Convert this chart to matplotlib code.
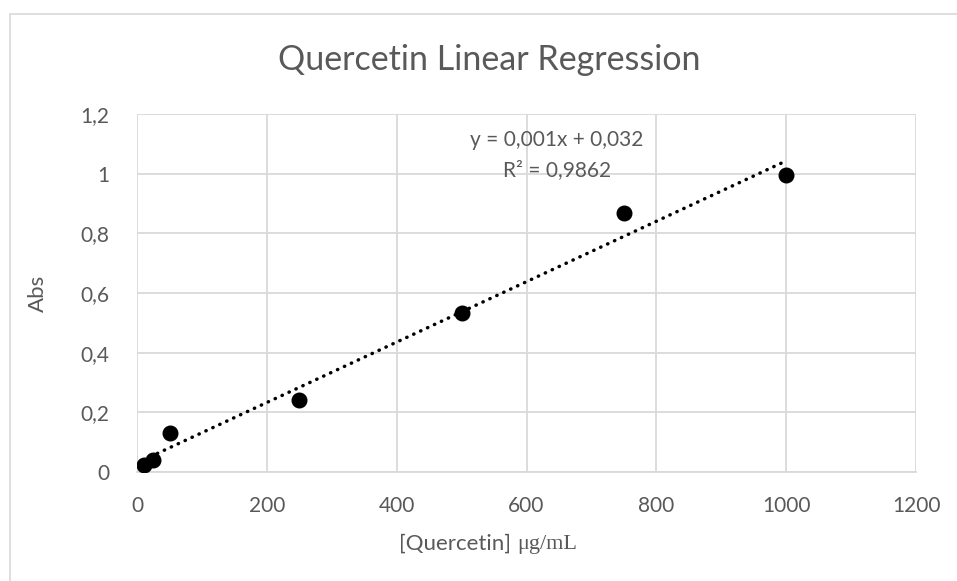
import matplotlib.pyplot as plt
import numpy as np
from matplotlib.offsetbox import TextArea, HPacker, AnchoredOffsetbox
from matplotlib.patches import Rectangle

# Datos
conc = [10, 25, 50, 250, 500, 750, 1000]
absorb = [0.023, 0.040, 0.131, 0.241, 0.533, 0.868, 0.995]
x_ticks = [0, 200, 400, 600, 800, 1000, 1200]
y_ticks = [0, 0.2, 0.4, 0.6, 0.8, 1.0, 1.2]
y_labels = ['0', '0,2', '0,4', '0,6', '0,8', '1', '1,2']

plt.rcParams['font.family'] = ['Lato', 'DejaVu Sans']
gris = '#595959'

fig = plt.figure(figsize=(9.57, 5.81), dpi=100)
ax = fig.add_axes([0.1432, 0.1876, 0.814, 0.6162])

# borde del grafico
fig.patches.append(Rectangle((0.0105, -0.05), 1.05, 1.026, transform=fig.transFigure,
                             fill=False, edgecolor='#d9d9d9', lw=1.2))

# linea de tendencia
m, b = np.polyfit(conc, absorb, 1)
xs = np.array([min(conc), max(conc)])
ax.plot(xs, m * xs + b, color='black', lw=2.5, linestyle=(0, (0.1, 2.1)),
        dash_capstyle='round', zorder=2)
ax.plot(conc, absorb, 'o', color='black', markersize=10.5, zorder=3)

ax.set_xlim(0, 1200)
ax.set_ylim(0, 1.2)
ax.set_xticks(x_ticks)
ax.set_yticks(y_ticks)
ax.set_yticklabels(y_labels)
ax.grid(True, color='#d9d9d9', lw=1.3)
ax.set_axisbelow(True)
for s in ['top', 'right', 'left']:
    ax.spines[s].set_visible(False)
ax.spines['bottom'].set_color('#d9d9d9')
ax.spines['bottom'].set_linewidth(1.3)
ax.tick_params(axis='x', length=0, labelsize=15, colors=gris, pad=17)
ax.tick_params(axis='y', length=0, labelsize=15, colors=gris, pad=20)

fig.text(0.511, 0.897, 'Quercetin Linear Regression', ha='center', va='center',
         fontsize=24.5, color=gris)
ax.set_ylabel('Abs', fontsize=16, color=gris, labelpad=23)

ax.text(647, 1.113, 'y = 0,001x + 0,032', ha='center', va='center', fontsize=15, color=gris)
ax.text(647, 1.012, 'R² = 0,9862', ha='center', va='center', fontsize=15, color=gris)

# etiqueta eje x: parte sans + unidad serif
t1 = TextArea('[Quercetin] ', textprops=dict(fontsize=16, color=gris))
t2 = TextArea('μg/mL', textprops=dict(fontsize=16, color=gris, family='Liberation Serif'))
box = HPacker(children=[t1, t2], align='baseline', pad=0, sep=0)
anch = AnchoredOffsetbox(loc='center', child=box, frameon=False,
                         bbox_to_anchor=(0.51, 0.064), bbox_transform=fig.transFigure)
fig.add_artist(anch)

fig.savefig('out.png', dpi=100)
